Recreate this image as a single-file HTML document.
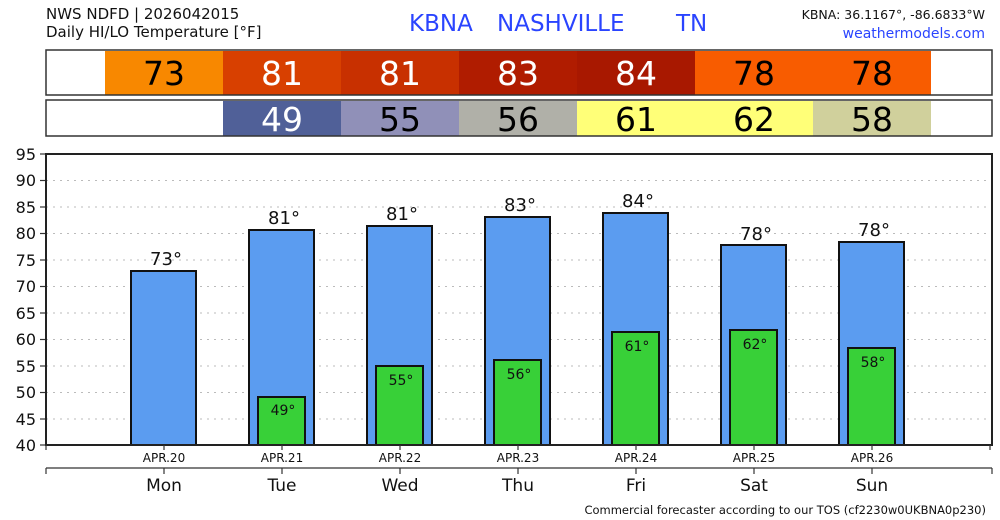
<!DOCTYPE html>
<html><head><meta charset="utf-8"><style>
html,body{margin:0;padding:0;background:#fff}
svg{display:block;font-family:"DejaVu Sans","Liberation Sans",sans-serif}
</style></head><body>
<svg width="1000" height="520" viewBox="0 0 1000 520" xmlns="http://www.w3.org/2000/svg">
<text x="46" y="19" font-size="15" fill="#111">NWS NDFD | 2026042015</text>
<text x="46" y="37" font-size="15" fill="#111">Daily HI/LO Temperature [°F]</text>
<text x="409" y="31" font-size="23" fill="#2a44ff">KBNA</text>
<text x="497" y="31" font-size="23" fill="#2a44ff">NASHVILLE</text>
<text x="676" y="31" font-size="23" fill="#2a44ff">TN</text>
<text x="985" y="19" font-size="12.5" fill="#111" text-anchor="end">KBNA: 36.1167°, -86.6833°W</text>
<text x="985" y="38" font-size="14" fill="#2a44ff" text-anchor="end">weathermodels.com</text>
<rect x="105" y="51" width="118" height="44" fill="#f88800"/>
<rect x="223" y="51" width="118" height="44" fill="#d84000"/>
<rect x="341" y="51" width="118" height="44" fill="#c83000"/>
<rect x="459" y="51" width="118" height="44" fill="#b01c00"/>
<rect x="577" y="51" width="118" height="44" fill="#a81800"/>
<rect x="695" y="51" width="118" height="44" fill="#f85c00"/>
<rect x="813" y="51" width="118" height="44" fill="#f85c00"/>
<rect x="46" y="50" width="946" height="45" fill="none" stroke="#333" stroke-width="1.5"/>
<g font-size="33" text-anchor="middle">
<text x="164" y="85" fill="#000">73</text><text x="282" y="85" fill="#fff">81</text><text x="400" y="85" fill="#fff">81</text><text x="518" y="85" fill="#fff">83</text><text x="636" y="85" fill="#fff">84</text><text x="754" y="85" fill="#000">78</text><text x="872" y="85" fill="#000">78</text>
</g>
<rect x="223" y="101" width="118" height="35" fill="#506098"/>
<rect x="341" y="101" width="118" height="35" fill="#9090b8"/>
<rect x="459" y="101" width="118" height="35" fill="#b0b0a8"/>
<rect x="577" y="101" width="118" height="35" fill="#ffff78"/>
<rect x="695" y="101" width="118" height="35" fill="#ffff78"/>
<rect x="813" y="101" width="118" height="35" fill="#d0d09c"/>
<rect x="46" y="100" width="946" height="36" fill="none" stroke="#333" stroke-width="1.5"/>
<g font-size="33" text-anchor="middle">
<text x="282" y="131" fill="#fff">49</text><text x="400" y="131" fill="#000">55</text><text x="518" y="131" fill="#000">56</text><text x="636" y="131" fill="#000">61</text><text x="754" y="131" fill="#000">62</text><text x="872" y="131" fill="#000">58</text>
</g>
<g stroke="#bbb" stroke-dasharray="2,5" stroke-width="1">
<line x1="46" x2="992" y1="180.5" y2="180.5"/><line x1="46" x2="992" y1="207" y2="207"/><line x1="46" x2="992" y1="233.5" y2="233.5"/><line x1="46" x2="992" y1="260" y2="260"/><line x1="46" x2="992" y1="286.5" y2="286.5"/><line x1="46" x2="992" y1="313" y2="313"/><line x1="46" x2="992" y1="339.5" y2="339.5"/><line x1="46" x2="992" y1="366" y2="366"/><line x1="46" x2="992" y1="392.5" y2="392.5"/><line x1="46" x2="992" y1="419" y2="419"/>
</g>
<g font-size="16" text-anchor="end" fill="#111">
<text x="36" y="160">95</text><text x="36" y="186">90</text><text x="36" y="213">85</text><text x="36" y="239">80</text><text x="36" y="266">75</text><text x="36" y="292">70</text><text x="36" y="319">65</text><text x="36" y="345">60</text><text x="36" y="372">55</text><text x="36" y="398">50</text><text x="36" y="425">45</text><text x="36" y="451">40</text>
</g>
<g stroke="#333" stroke-width="1.2">
<line x1="40" x2="46" y1="154" y2="154"/><line x1="40" x2="46" y1="180.5" y2="180.5"/><line x1="40" x2="46" y1="207" y2="207"/><line x1="40" x2="46" y1="233.5" y2="233.5"/><line x1="40" x2="46" y1="260" y2="260"/><line x1="40" x2="46" y1="286.5" y2="286.5"/><line x1="40" x2="46" y1="313" y2="313"/><line x1="40" x2="46" y1="339.5" y2="339.5"/><line x1="40" x2="46" y1="366" y2="366"/><line x1="40" x2="46" y1="392.5" y2="392.5"/><line x1="40" x2="46" y1="419" y2="419"/><line x1="40" x2="46" y1="445" y2="445"/>
</g>
<g stroke="#111" stroke-width="2">
<rect x="131" y="271" width="65" height="174" fill="#5b9cf0"/>
<rect x="249" y="230" width="65" height="215" fill="#5b9cf0"/>
<rect x="367" y="226" width="65" height="219" fill="#5b9cf0"/>
<rect x="485" y="217" width="65" height="228" fill="#5b9cf0"/>
<rect x="603" y="213" width="65" height="232" fill="#5b9cf0"/>
<rect x="721" y="245" width="65" height="200" fill="#5b9cf0"/>
<rect x="839" y="242" width="65" height="203" fill="#5b9cf0"/>
<rect x="258" y="397" width="47" height="48" fill="#38d038"/>
<rect x="376" y="366" width="47" height="79" fill="#38d038"/>
<rect x="494" y="360" width="47" height="85" fill="#38d038"/>
<rect x="612" y="332" width="47" height="113" fill="#38d038"/>
<rect x="730" y="330" width="47" height="115" fill="#38d038"/>
<rect x="848" y="348" width="47" height="97" fill="#38d038"/>
</g>
<g font-size="18" text-anchor="middle" fill="#111">
<text x="166" y="265">73°</text><text x="284" y="224">81°</text><text x="402" y="220">81°</text><text x="520" y="211">83°</text><text x="638" y="207">84°</text><text x="756" y="240">78°</text><text x="874" y="236">78°</text>
</g>
<g font-size="14" text-anchor="middle" fill="#111">
<text x="283" y="415">49°</text><text x="401" y="385">55°</text><text x="519" y="379">56°</text><text x="637" y="351">61°</text><text x="755" y="349">62°</text><text x="873" y="367">58°</text>
</g>
<rect x="46" y="154" width="946" height="291" fill="none" stroke="#222" stroke-width="2"/>
<g stroke="#333" stroke-width="1.2">
<line x1="46" x2="46" y1="445" y2="450"/>
<line x1="164" x2="164" y1="445" y2="450"/><line x1="282" x2="282" y1="445" y2="450"/><line x1="400" x2="400" y1="445" y2="450"/><line x1="518" x2="518" y1="445" y2="450"/><line x1="636" x2="636" y1="445" y2="450"/><line x1="754" x2="754" y1="445" y2="450"/><line x1="872" x2="872" y1="445" y2="450"/><line x1="990" x2="990" y1="445" y2="450"/>
<line x1="46" x2="992" y1="468" y2="468"/>
<line x1="46" x2="46" y1="468" y2="474"/><line x1="992" x2="992" y1="468" y2="474"/>
<line x1="164" x2="164" y1="468" y2="474"/><line x1="282" x2="282" y1="468" y2="474"/><line x1="400" x2="400" y1="468" y2="474"/><line x1="518" x2="518" y1="468" y2="474"/><line x1="636" x2="636" y1="468" y2="474"/><line x1="754" x2="754" y1="468" y2="474"/><line x1="872" x2="872" y1="468" y2="474"/>
</g>
<g font-size="12" text-anchor="middle" fill="#111">
<text x="164" y="462">APR.20</text><text x="282" y="462">APR.21</text><text x="400" y="462">APR.22</text><text x="518" y="462">APR.23</text><text x="636" y="462">APR.24</text><text x="754" y="462">APR.25</text><text x="872" y="462">APR.26</text>
</g>
<g font-size="17" text-anchor="middle" fill="#111">
<text x="164" y="491">Mon</text><text x="282" y="491">Tue</text><text x="400" y="491">Wed</text><text x="518" y="491">Thu</text><text x="636" y="491">Fri</text><text x="754" y="491">Sat</text><text x="872" y="491">Sun</text>
</g>
<text x="986" y="514" font-size="11.5" text-anchor="end" fill="#111">Commercial forecaster according to our TOS (cf2230w0UKBNA0p230)</text>
</svg>
</body></html>
